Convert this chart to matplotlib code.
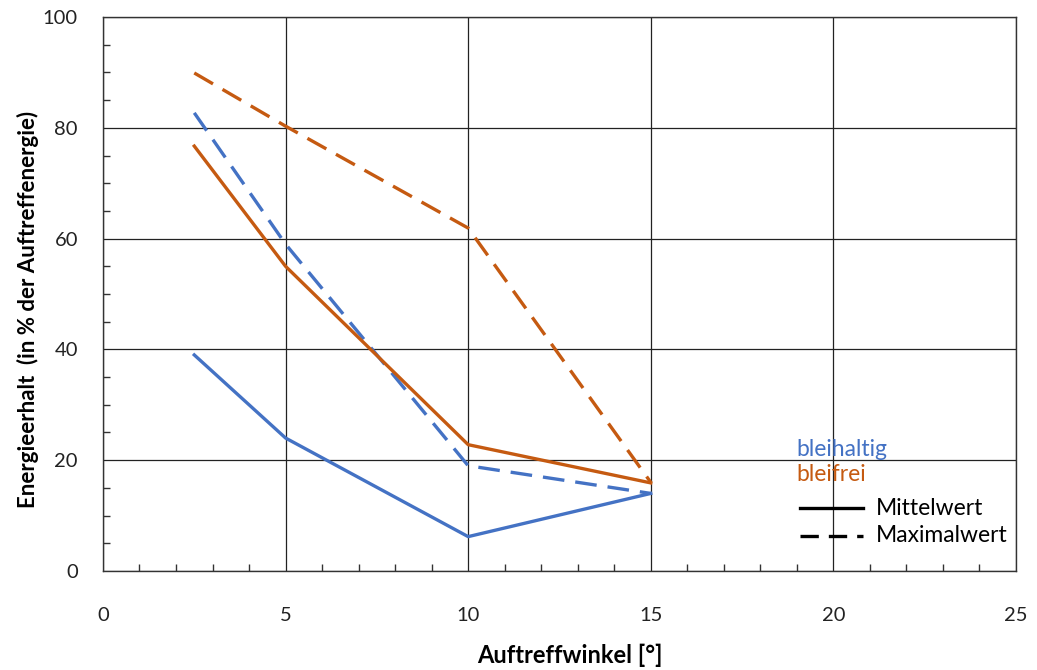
import matplotlib
matplotlib.use("Agg")
import matplotlib.pyplot as plt
from matplotlib.lines import Line2D
from matplotlib.ticker import MultipleLocator

plt.rcParams["font.family"] = ["Lato", "DejaVu Sans"]

# Data
winkel = [2.5, 5, 10, 15]
bleihaltig_mittel = [39, 24, 6.2, 14]
bleihaltig_max = [82.7, 59, 19, 14]
bleifrei_mittel = [76.7, 55, 22.8, 15.9]
bleifrei_max = [89.9, 80.3, 61.9, 16]

blau = "#4472C4"
orange = "#C55A11"

fig = plt.figure(figsize=(10.37, 6.7), dpi=100)
ax = fig.add_axes([0.0993, 0.1478, 0.8804, 0.8268])

lw = 2.4
dash = (0, (6.5, 3.3))
ax.plot(winkel, bleihaltig_mittel, color=blau, lw=lw)
ax.plot(winkel, bleihaltig_max, color=blau, lw=lw, linestyle=dash)
ax.plot(winkel, bleifrei_mittel, color=orange, lw=lw)
ax.plot(winkel, bleifrei_max, color=orange, lw=lw, linestyle=dash)

ax.set_xlim(0, 25)
ax.set_ylim(0, 100)
ax.xaxis.set_major_locator(MultipleLocator(5))
ax.xaxis.set_minor_locator(MultipleLocator(1))
ax.yaxis.set_major_locator(MultipleLocator(20))
ax.yaxis.set_minor_locator(MultipleLocator(5))
ax.tick_params(which="both", direction="in", color="#333333")
ax.tick_params(which="major", length=0, labelsize=14.5, labelcolor="#222222")
ax.tick_params(axis="x", which="major", pad=26)
ax.tick_params(axis="y", which="major", pad=18)
ax.tick_params(which="minor", length=5, width=1)
ax.grid(True, which="major", color="#222222", lw=0.9)
for s in ax.spines.values():
    s.set_color("#333333")
    s.set_linewidth(1.0)

ax.set_xlabel("Auftreffwinkel [°]", fontsize=17, fontweight="bold", va="center")
ax.xaxis.set_label_coords(0.511, -0.152)
ax.set_ylabel("Energieerhalt  (in % der Auftreffenergie)", fontsize=16,
              fontweight="bold", va="center")
ax.yaxis.set_label_coords(-0.082, 0.472)

# custom legend
ax.text(0.759, 0.22, "bleihaltig", color=blau, fontsize=16.5, transform=ax.transAxes,
        va="center", ha="left")
ax.text(0.759, 0.175, "bleifrei", color=orange, fontsize=16.5, transform=ax.transAxes,
        va="center", ha="left")
ax.add_line(Line2D([0.763, 0.832], [0.113, 0.113], color="black", lw=2.4,
                   transform=ax.transAxes))
ax.add_line(Line2D([0.763, 0.832], [0.064, 0.064], color="black", lw=2.4,
                   linestyle=(0, (5.5, 3)), transform=ax.transAxes))
ax.text(0.847, 0.113, "Mittelwert", fontsize=16.5, transform=ax.transAxes,
        va="center", ha="left")
ax.text(0.847, 0.064, "Maximalwert", fontsize=16.5, transform=ax.transAxes,
        va="center", ha="left")

fig.savefig("out.png", dpi=100)
